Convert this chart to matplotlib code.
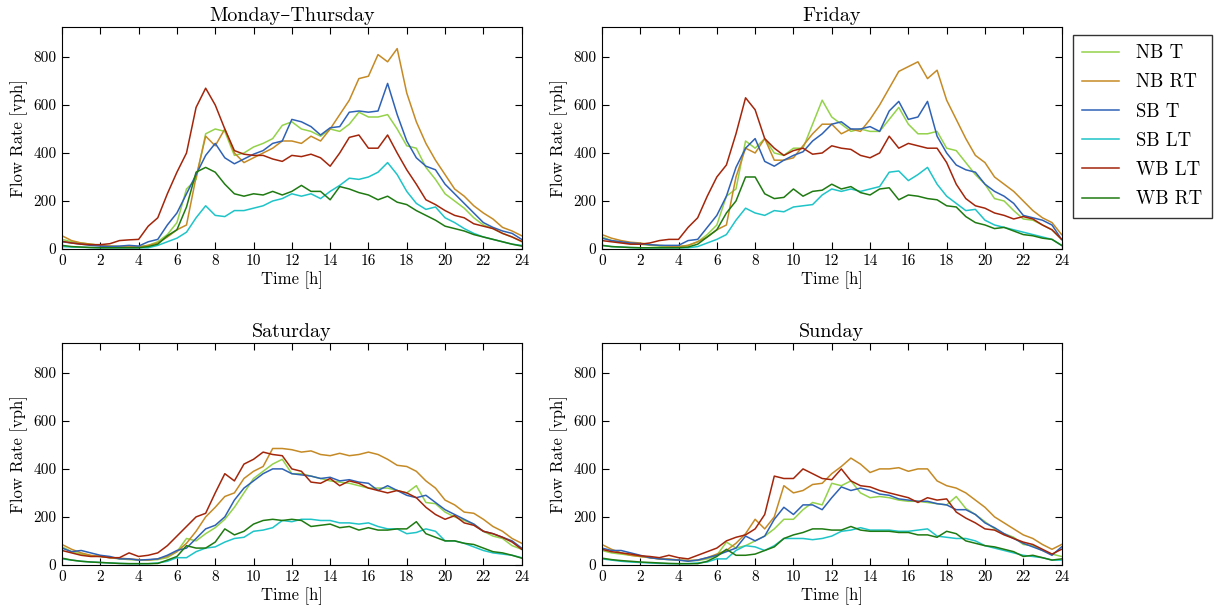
import numpy as np
import matplotlib
matplotlib.use('Agg')
import matplotlib.pyplot as plt

# time of day, half-hour steps
hours = np.arange(0, 24.5, 0.5)

series_names = ['NB T', 'NB RT', 'SB T', 'SB LT', 'WB LT', 'WB RT']
colors = ['#94d24a', '#c58a25', '#2f62b5', '#1ec4c8', '#a3260b', '#1f7a12']
panel_titles = ['Monday\u2013Thursday', 'Friday', 'Saturday', 'Sunday']

# Monday-Thursday
mt_nb_t = [40, 30, 25, 20, 15, 12, 10, 10, 10, 15,
           30, 60, 110, 250, 290, 480, 500, 490, 390, 400,
           425, 440, 460, 515, 530, 500, 490, 470, 500, 490,
           520, 570, 550, 550, 560, 500, 430, 420, 340, 290,
           230, 200, 170, 130, 100, 85, 65, 50, 30]
mt_nb_rt = [55, 35, 25, 20, 15, 12, 10, 10, 8, 15,
            25, 50, 80, 100, 300, 470, 430, 500, 400, 360,
            380, 400, 420, 450, 450, 440, 470, 450, 500, 560,
            620, 710, 720, 810, 780, 835, 650, 530, 440, 370,
            310, 250, 220, 180, 150, 125, 90, 75, 55]
mt_sb_t = [30, 25, 20, 15, 12, 10, 12, 15, 12, 30,
           40, 100, 150, 230, 310, 390, 440, 380, 355, 375,
           395, 410, 440, 450, 540, 530, 510, 475, 505, 510,
           570, 575, 570, 575, 690, 560, 450, 380, 345, 330,
           270, 230, 190, 150, 110, 90, 75, 65, 40]
mt_sb_lt = [10, 8, 7, 6, 5, 5, 5, 5, 5, 5,
            15, 30, 45, 70, 130, 180, 140, 135, 160, 160,
            170, 180, 200, 210, 230, 220, 230, 210, 240, 265,
            295, 290, 300, 320, 360, 310, 240, 190, 165, 175,
            130, 110, 85, 65, 50, 40, 30, 20, 15]
mt_wb_lt = [32, 25, 20, 18, 18, 22, 35, 38, 40, 95,
            130, 230, 320, 400, 590, 670, 600, 500, 410, 395,
            390, 390, 375, 365, 390, 385, 395, 380, 345, 400,
            465, 475, 420, 420, 475, 400, 330, 270, 205, 185,
            160, 140, 130, 105, 95, 85, 65, 50, 32]
mt_wb_rt = [15, 10, 8, 6, 5, 5, 5, 5, 5, 10,
            20, 55, 80, 175, 320, 340, 320, 270, 230, 220,
            230, 225, 240, 225, 240, 265, 240, 240, 205, 260,
            250, 235, 225, 205, 220, 195, 185, 160, 140, 120,
            95, 85, 75, 60, 50, 40, 30, 20, 12]

# Friday
fr_nb_t = [50, 35, 28, 22, 20, 15, 12, 10, 10, 15,
           30, 60, 100, 220, 250, 450, 420, 460, 400, 390,
           420, 420, 520, 620, 550, 520, 490, 500, 490, 490,
           540, 590, 520, 480, 480, 490, 420, 410, 360, 310,
           270, 210, 200, 160, 125, 120, 100, 80, 40]
fr_nb_rt = [60, 45, 35, 28, 25, 18, 15, 12, 10, 15,
            30, 50, 80, 100, 300, 420, 400, 460, 370, 370,
            380, 430, 480, 520, 520, 480, 500, 490, 540, 600,
            670, 740, 760, 780, 710, 745, 620, 540, 460, 390,
            360, 300, 270, 240, 200, 160, 130, 110, 60]
fr_sb_t = [45, 35, 30, 25, 22, 18, 15, 15, 15, 35,
           40, 90, 140, 220, 340, 420, 460, 365, 345, 370,
           390, 405, 450, 480, 520, 530, 500, 500, 510, 490,
           575, 615, 540, 550, 615, 470, 400, 350, 330, 320,
           270, 240, 220, 190, 140, 130, 120, 100, 40]
fr_sb_lt = [15, 10, 8, 6, 5, 5, 5, 5, 5, 5,
            10, 25, 40, 60, 120, 170, 150, 140, 160, 155,
            175, 180, 185, 225, 250, 240, 250, 240, 250, 260,
            320, 325, 285, 310, 340, 270, 220, 190, 160, 165,
            120, 100, 90, 80, 70, 60, 50, 40, 15]
fr_wb_lt = [35, 30, 25, 20, 20, 25, 35, 40, 40, 90,
            130, 220, 300, 350, 480, 630, 580, 460, 420, 390,
            410, 420, 395, 400, 430, 420, 415, 390, 380, 400,
            470, 420, 440, 430, 420, 420, 360, 270, 210, 180,
            170, 150, 140, 125, 135, 125, 100, 80, 40]
fr_wb_rt = [15, 10, 8, 6, 5, 5, 5, 5, 5, 8,
            20, 50, 80, 150, 200, 300, 300, 230, 210, 215,
            250, 220, 240, 245, 270, 250, 260, 235, 225, 250,
            255, 205, 225, 220, 210, 205, 180, 175, 135, 110,
            100, 85, 90, 75, 60, 55, 45, 40, 15]

# Saturday
sa_nb_t = [75, 55, 45, 38, 35, 30, 25, 22, 20, 20,
           22, 30, 55, 110, 100, 130, 155, 190, 240, 300,
           360, 390, 420, 440, 380, 380, 370, 360, 350, 345,
           340, 330, 320, 320, 320, 310, 300, 330, 260, 255,
           220, 200, 185, 170, 140, 120, 110, 80, 65]
sa_nb_rt = [85, 65, 50, 40, 35, 30, 28, 25, 22, 20,
            25, 35, 55, 90, 140, 200, 240, 285, 300, 360,
            390, 410, 485, 485, 480, 470, 475, 460, 455, 465,
            455, 460, 470, 460, 440, 415, 410, 390, 350, 320,
            270, 250, 220, 215, 190, 160, 140, 110, 90]
sa_sb_t = [70, 55, 60, 50, 40, 35, 25, 25, 20, 22,
           25, 40, 60, 70, 110, 150, 165, 200, 270, 320,
           350, 380, 400, 400, 380, 375, 370, 360, 365, 350,
           355, 345, 340, 310, 330, 310, 290, 280, 290, 260,
           230, 210, 190, 170, 140, 130, 115, 100, 70]
sa_sb_lt = [25, 20, 15, 12, 10, 8, 6, 5, 5, 5,
            8, 15, 30, 30, 55, 70, 75, 95, 110, 115,
            140, 145, 155, 185, 180, 190, 190, 185, 185, 175,
            175, 170, 175, 160, 150, 150, 130, 135, 150, 140,
            100, 100, 90, 75, 60, 50, 45, 40, 30]
sa_wb_lt = [60, 50, 40, 35, 35, 30, 30, 50, 35, 40,
            50, 80, 120, 160, 200, 215, 300, 380, 350, 420,
            440, 470, 460, 455, 400, 390, 345, 340, 360, 330,
            350, 340, 320, 310, 300, 310, 300, 280, 240, 210,
            190, 205, 175, 165, 140, 130, 115, 95, 65]
sa_wb_rt = [28, 20, 15, 12, 10, 8, 6, 5, 5, 5,
            6, 20, 35, 80, 70, 70, 95, 150, 125, 140,
            170, 185, 190, 185, 190, 185, 160, 165, 170, 155,
            160, 145, 155, 145, 145, 150, 150, 180, 130, 115,
            100, 100, 90, 85, 70, 55, 50, 40, 28]

# Sunday
su_nb_t = [60, 50, 45, 40, 35, 30, 25, 22, 20, 18,
           18, 25, 40, 95, 70, 80, 100, 120, 150, 190,
           190, 230, 260, 250, 340, 330, 350, 300, 280, 285,
           280, 270, 265, 265, 260, 255, 250, 285, 235, 210,
           180, 150, 130, 115, 85, 80, 60, 45, 35]
su_nb_rt = [85, 65, 50, 40, 35, 30, 25, 25, 20, 18,
            20, 30, 45, 60, 90, 130, 190, 150, 200, 330,
            300, 310, 335, 340, 380, 410, 445, 420, 385, 400,
            400, 405, 390, 400, 400, 350, 330, 320, 300, 270,
            240, 200, 175, 150, 125, 110, 85, 65, 85]
su_sb_t = [70, 60, 60, 50, 40, 30, 25, 22, 20, 15,
           20, 30, 40, 55, 70, 120, 100, 120, 190, 240,
           210, 250, 250, 230, 280, 325, 310, 320, 310, 295,
           290, 275, 270, 265, 265, 255, 250, 230, 230, 210,
           175, 155, 130, 110, 90, 75, 60, 40, 75]
su_sb_lt = [25, 20, 15, 12, 10, 8, 6, 5, 5, 5,
            8, 12, 25, 25, 60, 80, 75, 60, 80, 110,
            110, 110, 105, 110, 120, 140, 145, 155, 145, 145,
            145, 140, 140, 145, 150, 120, 115, 110, 110, 100,
            80, 70, 60, 50, 40, 35, 30, 20, 20]
su_wb_lt = [65, 55, 50, 45, 38, 35, 30, 40, 30, 25,
            40, 55, 70, 100, 115, 125, 150, 210, 370, 360,
            360, 400, 380, 360, 355, 400, 350, 330, 325, 310,
            300, 290, 280, 260, 280, 270, 275, 220, 195, 175,
            150, 145, 125, 110, 95, 85, 65, 45, 65]
su_wb_rt = [28, 22, 18, 15, 12, 10, 8, 6, 5, 5,
            5, 15, 35, 65, 40, 40, 45, 60, 75, 110,
            125, 135, 150, 150, 145, 145, 160, 145, 140, 140,
            140, 135, 135, 125, 125, 115, 140, 130, 100, 90,
            80, 75, 65, 55, 35, 40, 30, 20, 25]

panels = [
    [mt_nb_t, mt_nb_rt, mt_sb_t, mt_sb_lt, mt_wb_lt, mt_wb_rt],
    [fr_nb_t, fr_nb_rt, fr_sb_t, fr_sb_lt, fr_wb_lt, fr_wb_rt],
    [sa_nb_t, sa_nb_rt, sa_sb_t, sa_sb_lt, sa_wb_lt, sa_wb_rt],
    [su_nb_t, su_nb_rt, su_sb_t, su_sb_lt, su_wb_lt, su_wb_rt],
]

plt.rcParams['font.family'] = ['cmr10', 'DejaVu Serif']
plt.rcParams['axes.unicode_minus'] = False
plt.rcParams['xtick.direction'] = 'in'
plt.rcParams['ytick.direction'] = 'in'
plt.rcParams['xtick.top'] = True
plt.rcParams['ytick.right'] = True
plt.rcParams['xtick.major.size'] = 5
plt.rcParams['ytick.major.size'] = 5

fig = plt.figure(figsize=(12.16, 6.14), dpi=100)

# axes boxes [left, bottom, width, height] in figure fraction
boxes = [
    [0.051, 0.5945, 0.378, 0.3615],
    [0.495, 0.5945, 0.378, 0.3615],
    [0.051, 0.080, 0.378, 0.3615],
    [0.495, 0.080, 0.378, 0.3615],
]

axes = []
for box, title, data in zip(boxes, panel_titles, panels):
    ax = fig.add_axes(box)
    for values, name, c in zip(data, series_names, colors):
        ax.plot(hours, values, color=c, lw=1.1, label=name)
    ax.set_xlim(0, 24)
    ax.set_ylim(0, 925)
    ax.set_xticks(np.arange(0, 25, 2))
    ax.set_yticks([0, 200, 400, 600, 800])
    ax.tick_params(labelsize=11, pad=4)
    ax.set_title(title, fontsize=14.5, pad=4)
    ax.set_xlabel('Time [h]', fontsize=12, labelpad=2)
    ax.set_ylabel('Flow Rate [vph]', fontsize=12, labelpad=4)
    axes.append(ax)

leg = axes[1].legend(loc='upper left', bbox_to_anchor=(1.024, 0.964),
                     fontsize=13.5, frameon=True, fancybox=False,
                     handlelength=2.0, handletextpad=0.9, labelspacing=0.6,
                     borderpad=0.5, borderaxespad=0)
leg.get_frame().set_edgecolor('black')
leg.get_frame().set_linewidth(1.0)

fig.savefig('out.png', dpi=100, facecolor='white')
